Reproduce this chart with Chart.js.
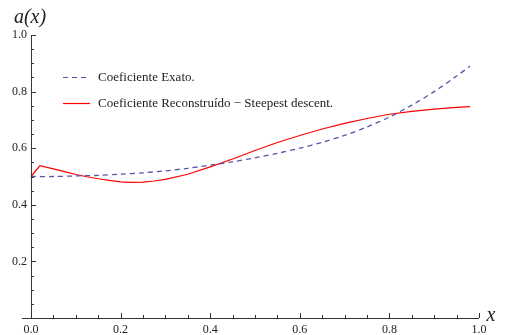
<!DOCTYPE html>
<html>
<head>
<meta charset="utf-8">
<script src="https://cdn.jsdelivr.net/npm/chart.js@4"></script>
<style>
  html, body { margin: 0; padding: 0; background: #fff; }
  #wrap { width: 513px; height: 335px; }
</style>
</head>
<body>
<div id="wrap"><canvas id="chart"></canvas></div>
<script>
// Dados
const xExact = [0, 0.05, 0.1, 0.15, 0.2, 0.25, 0.3, 0.35, 0.4, 0.45, 0.5, 0.55, 0.6, 0.65, 0.7, 0.75, 0.8, 0.85, 0.9, 0.95, 0.98];
const exactValues = [0.5, 0.5, 0.502, 0.504, 0.508, 0.513, 0.52, 0.529, 0.54, 0.552, 0.566, 0.582, 0.6, 0.621, 0.645, 0.675, 0.71, 0.752, 0.8, 0.855, 0.89];

const xRecon = [0, 0.02, 0.05, 0.075, 0.1, 0.125, 0.15, 0.175, 0.2, 0.225, 0.25, 0.275, 0.3, 0.35, 0.4, 0.45, 0.5, 0.55, 0.6, 0.65, 0.7, 0.75, 0.8, 0.85, 0.9, 0.95, 0.98];
const reconValues = [0.5, 0.538, 0.527, 0.517, 0.507, 0.499, 0.492, 0.486, 0.481, 0.479, 0.48, 0.484, 0.49, 0.508, 0.534, 0.562, 0.592, 0.62, 0.645, 0.668, 0.688, 0.705, 0.72, 0.73, 0.738, 0.744, 0.747];

const xTicks = [0, 0.2, 0.4, 0.6, 0.8, 1.0];
const yTicks = [0.2, 0.4, 0.6, 0.8, 1.0];
const minorStep = 0.05;

const blue = "#5555a8";
const red = "#ff0000";
const serif = "'Liberation Serif', 'DejaVu Serif', serif";

function toPoints(xs, ys) {
  return xs.map((x, i) => ({ x: x, y: ys[i] }));
}

// eixos no estilo Mathematica, legenda dentro do gráfico
const axesPlugin = {
  id: "axesPlugin",
  afterDraw(chart) {
    const ctx = chart.ctx;
    const xs = chart.scales.x;
    const ys = chart.scales.y;
    const x0 = xs.getPixelForValue(0);
    const y0 = ys.getPixelForValue(0);

    ctx.save();
    ctx.strokeStyle = "#333";
    ctx.lineWidth = 1;

    // linhas dos eixos
    ctx.beginPath();
    ctx.moveTo(xs.getPixelForValue(-0.02), y0 + 0.5);
    ctx.lineTo(xs.getPixelForValue(1.0), y0 + 0.5);
    ctx.moveTo(x0 + 0.5, y0);
    ctx.lineTo(x0 + 0.5, ys.getPixelForValue(1.0));
    ctx.stroke();

    // marcas
    ctx.beginPath();
    for (let v = 0; v <= 1.0001; v += minorStep) {
      const major = Math.abs(v / 0.2 - Math.round(v / 0.2)) < 1e-6;
      const len = major ? 5 : 3;
      const px = Math.round(xs.getPixelForValue(v)) + 0.5;
      ctx.moveTo(px, y0);
      ctx.lineTo(px, y0 - len);
      if (v > 0) {
        const py = Math.round(ys.getPixelForValue(v)) + 0.5;
        ctx.moveTo(x0, py);
        ctx.lineTo(x0 + len, py);
      }
    }
    ctx.stroke();

    // rótulos
    ctx.fillStyle = "#222";
    ctx.font = "12px " + serif;
    ctx.textAlign = "center";
    ctx.textBaseline = "middle";
    xTicks.forEach((v) => {
      ctx.fillText(v.toFixed(1), xs.getPixelForValue(v), y0 + 12);
    });
    ctx.textAlign = "right";
    yTicks.forEach((v) => {
      ctx.fillText(v.toFixed(1), x0 - 4, ys.getPixelForValue(v));
    });

    // títulos dos eixos
    ctx.font = "italic 20px " + serif;
    ctx.textAlign = "center";
    ctx.fillText("a(x)", 30, 18);
    ctx.fillText("x", 491, 316);

    // legenda
    ctx.font = "13px " + serif;
    ctx.textAlign = "left";
    chart.data.datasets.forEach((ds, i) => {
      const ly = 77.5 + i * 26;
      ctx.strokeStyle = ds.borderColor;
      ctx.lineWidth = 1.2;
      ctx.setLineDash(ds.borderDash || []);
      ctx.beginPath();
      ctx.moveTo(63, ly);
      ctx.lineTo(90, ly);
      ctx.stroke();
      ctx.setLineDash([]);
      ctx.fillStyle = "#222";
      ctx.fillText(ds.label, 98, ly);
    });
    ctx.restore();
  },
};

new Chart(document.getElementById("chart"), {
  type: "line",
  data: {
    datasets: [
      {
        label: "Coeficiente Exato.",
        data: toPoints(xExact, exactValues),
        borderColor: blue,
        borderWidth: 1.3,
        borderDash: [5, 4],
        pointRadius: 0,
        tension: 0.3,
        fill: false,
      },
      {
        label: "Coeficiente Reconstruído − Steepest descent.",
        data: toPoints(xRecon, reconValues),
        borderColor: red,
        borderWidth: 1.2,
        pointRadius: 0,
        tension: 0,
        fill: false,
      },
    ],
  },
  options: {
    responsive: true,
    maintainAspectRatio: false,
    animation: false,
    layout: {
      padding: { left: 22, right: 34, top: 35, bottom: 17 },
    },
    scales: {
      x: { type: "linear", min: -0.02, max: 1.0, display: false },
      y: { type: "linear", min: 0, max: 1.0, display: false },
    },
    plugins: {
      legend: { display: false },
      tooltip: { enabled: false },
    },
  },
  plugins: [axesPlugin],
});
</script>
</body>
</html>
